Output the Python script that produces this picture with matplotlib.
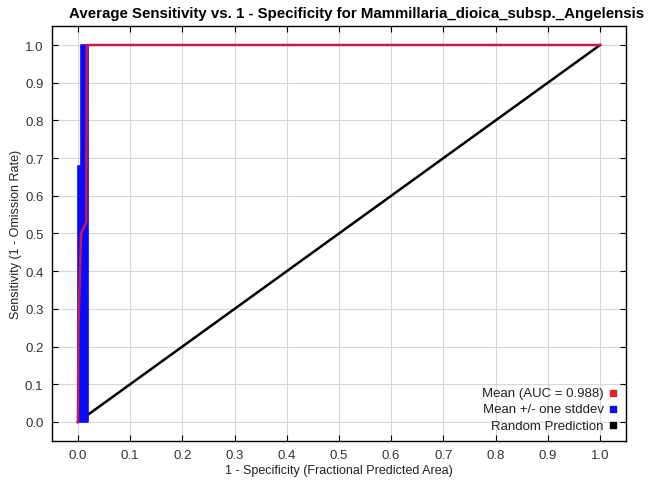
import matplotlib
matplotlib.use("Agg")
import matplotlib.pyplot as plt

plt.rcParams['font.family'] = ['Liberation Sans', 'DejaVu Sans']

# mean ROC curve (1 - specificity, sensitivity)
mean_x = [0.0, 0.001, 0.005, 0.006, 0.016, 0.017, 1.0]
mean_y = [0.0, 0.25, 0.45, 0.50, 0.53, 1.0, 1.0]

# mean +/- one stddev band, given as left/right edges per sensitivity level
band_y = [0.0, 0.68, 0.68, 1.0]
band_left = [0.0, 0.0, 0.006, 0.006]
band_right = [0.019, 0.019, 0.019, 0.019]

random_x = [0.0, 1.0]
random_y = [0.0, 1.0]

auc = 0.988
ticks = [i / 10 for i in range(11)]

fig = plt.figure(figsize=(6.64, 4.85), dpi=100)
ax = fig.add_axes([0.078, 0.089, 0.865, 0.855])

ax.plot(random_x, random_y, color='black', lw=1.8, zorder=2)
ax.fill_betweenx(band_y, band_left, band_right, color='#0a0aff', lw=1.2,
                 edgecolor='#0a0aff', zorder=3)
ax.plot(mean_x, mean_y, color='#c81a4c', lw=1.8, zorder=4)

ax.set_xlim(-0.05, 1.05)
ax.set_ylim(-0.05, 1.05)
ax.set_xticks(ticks)
ax.set_yticks(ticks)
ax.set_xticklabels([f"{t:.1f}" for t in ticks])
ax.set_yticklabels([f"{t:.1f}" for t in ticks])
ax.tick_params(direction='in', length=4, labelsize=9.5, top=True, right=True,
               labelcolor='#333333', pad=6)
ax.grid(True, color='#d8d8d8', lw=0.8)
ax.set_axisbelow(True)
for s in ax.spines.values():
    s.set_linewidth(1.0)

ax.set_xlabel("1 - Specificity (Fractional Predicted Area)", fontsize=9, labelpad=2, color='#222222')
ax.set_ylabel("Sensitivity (1 - Omission Rate)", fontsize=9, labelpad=2, color='#222222')
fig.suptitle("Average Sensitivity vs. 1 - Specificity for Mammillaria_dioica_subsp._Angelensis",
             fontsize=10.8, fontweight='bold', x=0.537, y=0.986)

# legend entries: label text on the left, small square swatch on the right
h1 = ax.scatter([], [], marker='s', s=14, color='#e0202c')
h2 = ax.scatter([], [], marker='s', s=14, color='#1010e0')
h3 = ax.scatter([], [], marker='s', s=14, color='black')
leg = ax.legend([h1, h2, h3],
                [f"Mean (AUC = {auc:.3f})", "Mean +/- one stddev", "Random Prediction"],
                loc='lower right', frameon=False, markerfirst=False, fontsize=9.5,
                handlelength=0.6, handletextpad=0.4, labelspacing=0.3,
                borderaxespad=0.3)
for t in leg.get_texts():
    t.set_ha('right')
    t.set_color('#222222')

fig.savefig("out.png", dpi=100)
